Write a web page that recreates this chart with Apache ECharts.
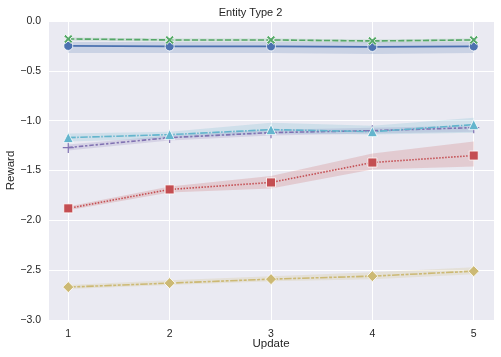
<!DOCTYPE html>
<html>
<head>
<meta charset="utf-8">
<script src="https://cdn.jsdelivr.net/npm/echarts@6/dist/echarts.min.js"></script>
<style>
  html, body { margin: 0; padding: 0; background: #fff; }
  #chart { width: 501px; height: 357px; }
</style>
</head>
<body>
<div id="chart"></div>
<script>
// x values (Update)
const updates = [1, 2, 3, 4, 5]
const yTicks = [0, -0.5, -1, -1.5, -2, -2.5, -3]

// mean + confidence band per line
const blueMean = [-0.25, -0.255, -0.255, -0.26, -0.255]
const blueLow = [-0.32, -0.32, -0.32, -0.33, -0.32]
const blueHigh = [-0.21, -0.21, -0.21, -0.21, -0.21]

const greenMean = [-0.18, -0.19, -0.19, -0.20, -0.19]
const greenLow = [-0.195, -0.205, -0.205, -0.215, -0.205]
const greenHigh = [-0.165, -0.175, -0.175, -0.185, -0.175]

const redMean = [-1.88, -1.69, -1.62, -1.42, -1.35]
const redLow = [-1.90, -1.72, -1.68, -1.49, -1.46]
const redHigh = [-1.86, -1.66, -1.555, -1.33, -1.21]

const purpleMean = [-1.27, -1.17, -1.12, -1.10, -1.07]
const purpleLow = [-1.30, -1.20, -1.15, -1.13, -1.11]
const purpleHigh = [-1.24, -1.15, -1.09, -1.07, -1.05]

const cyanMean = [-1.17, -1.14, -1.09, -1.11, -1.04]
const cyanLow = [-1.21, -1.18, -1.13, -1.14, -1.12]
const cyanHigh = [-1.13, -1.11, -1.02, -1.05, -0.97]

const yellowMean = [-2.67, -2.63, -2.59, -2.56, -2.51]
const yellowLow = [-2.69, -2.65, -2.61, -2.59, -2.54]
const yellowHigh = [-2.65, -2.60, -2.56, -2.52, -2.47]

const X_PATH = 'path://M2,0L5,3L8,0L10,2L7,5L10,8L8,10L5,7L2,10L0,8L3,5L0,2Z'
const PLUS_PATH = 'path://M4.45,0H5.55V4.45H10V5.55H5.55V10H4.45V5.55H0V4.45H4.45Z'

const lines = [
  { name: 'blue', color: '#4C72B0', mean: blueMean, low: blueLow, high: blueHigh, dash: 'solid', symbol: 'circle', size: 9 },
  { name: 'green', color: '#55A868', mean: greenMean, low: greenLow, high: greenHigh, dash: [6, 2.25], symbol: X_PATH, size: 9 },
  { name: 'red', color: '#C44E52', mean: redMean, low: redLow, high: redHigh, dash: [1.5, 1.5], symbol: 'rect', size: 9 },
  { name: 'purple', color: '#8172B2', mean: purpleMean, low: purpleLow, high: purpleHigh, dash: [4.5, 1.9, 2.25, 1.9], symbol: PLUS_PATH, size: 11, noEdge: true },
  { name: 'cyan', color: '#64B5CD', mean: cyanMean, low: cyanLow, high: cyanHigh, dash: [7.5, 1.5, 1.5, 1.5], symbol: 'triangle', size: 10 },
  { name: 'yellow', color: '#CCB974', mean: yellowMean, low: yellowLow, high: yellowHigh, dash: [7.5, 1.5, 3, 1.5, 3, 1.5], symbol: 'diamond', size: 11 },
]

const pairs = arr => updates.map((u, i) => [u, arr[i]])
const fmt = v => (Math.abs(v) < 1e-9 ? '0.0' : v.toFixed(1).replace('-', '\u2212'))

// band polygon: upper edge forward, lower edge backward
function bandSeries(l) {
  return {
    type: 'custom', silent: true, z: 1,
    data: updates.map((u, i) => [u, l.low[i], l.high[i]]),
    encode: { x: 0, y: [1, 2] },
    renderItem(params, api) {
      if (params.dataIndex !== 0) return null
      const top = updates.map((u, i) => api.coord([u, l.high[i]]))
      const bot = updates.map((u, i) => api.coord([u, l.low[i]])).reverse()
      return {
        type: 'polygon',
        shape: { points: top.concat(bot) },
        style: { fill: l.color, opacity: 0.2 },
      }
    },
  }
}

const series = []
lines.forEach(l => series.push(bandSeries(l)))
lines.forEach(l => {
  series.push({
    name: l.name, type: 'line', data: pairs(l.mean),
    symbol: l.symbol, symbolSize: l.size, z: 3,
    lineStyle: { color: l.color, width: 1.6, type: l.dash },
    itemStyle: l.noEdge
      ? { color: l.color, borderWidth: 0 }
      : { color: l.color, borderColor: '#fff', borderWidth: 0.8 },
  })
})

const chart = echarts.init(document.getElementById('chart'))
chart.setOption({
  animation: false,
  backgroundColor: '#fff',
  textStyle: { fontFamily: 'Liberation Sans, Arial, sans-serif' },
  title: {
    text: 'Entity Type 2', left: 'center', top: 2,
    textStyle: { fontSize: 11, fontWeight: 'normal', color: '#262626', fontFamily: 'Liberation Sans, Arial, sans-serif' },
  },
  grid: {
    left: 48, right: 7, top: 21, bottom: 37, outerBoundsMode: 'none', containLabel: false,
    show: true, backgroundColor: '#EAEAF2', borderWidth: 0,
  },
  xAxis: {
    type: 'value', min: 0.8, max: 5.2,
    name: 'Update', nameLocation: 'middle', nameGap: 18, nameMoveOverlap: false,
    nameTextStyle: { fontSize: 11.5, color: '#262626' },
    axisLine: { show: false }, axisTick: { show: false },
    axisLabel: { showMinLabel: false, showMaxLabel: false, fontSize: 10.5, color: '#262626', margin: 9,
      formatter: v => (Number.isInteger(v) ? String(v) : '') },
    splitLine: { show: true, lineStyle: { color: '#fff', width: 1 } },
  },
  yAxis: {
    type: 'value', min: yTicks[yTicks.length - 1], max: yTicks[0], interval: 0.5,
    name: 'Reward', nameLocation: 'middle', nameGap: 31, nameMoveOverlap: false,
    nameTextStyle: { fontSize: 11.5, color: '#262626' },
    axisLine: { show: false }, axisTick: { show: false },
    axisLabel: { fontSize: 10.5, color: '#262626', margin: 7, formatter: fmt },
    splitLine: { show: true, lineStyle: { color: '#fff', width: 1 } },
  },
  series,
})
</script>
</body>
</html>
